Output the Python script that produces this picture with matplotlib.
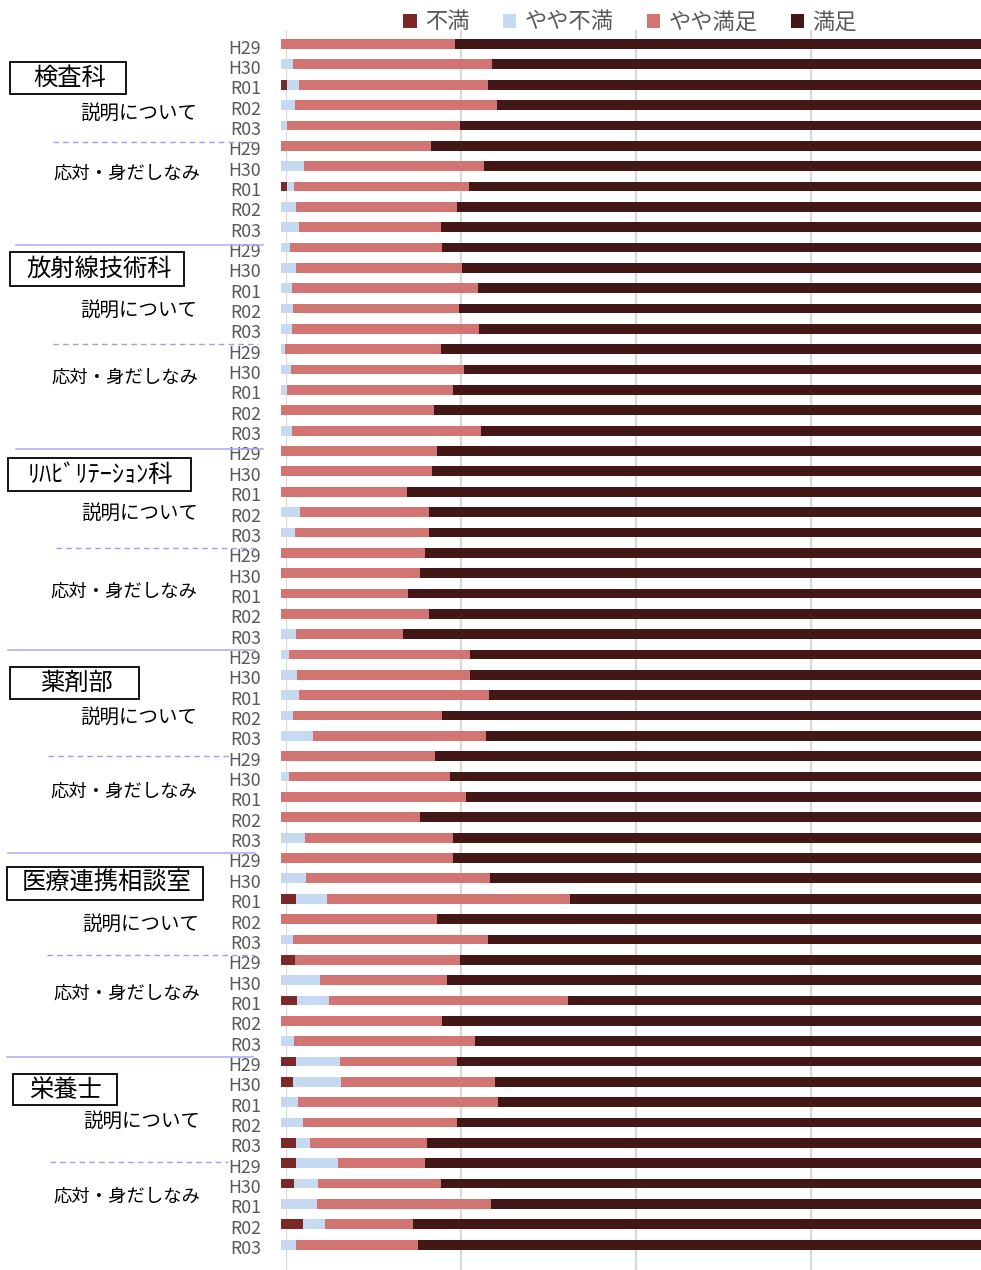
import matplotlib
matplotlib.use('Agg')
import matplotlib.pyplot as plt
from matplotlib.patches import Rectangle, Patch
from matplotlib.lines import Line2D
import matplotlib.transforms as mtransforms
import numpy as np

plt.rcParams['font.family'] = ['Noto Sans CJK JP', 'DejaVu Sans']

# ---------------- data ----------------
years = ['H29', 'H30', 'R01', 'R02', 'R03']
departments = ['検査科', '放射線技術科', 'ﾘﾊﾋﾞﾘﾃｰｼｮﾝ科', '薬剤部', '医療連携相談室', '栄養士']
questions = ['説明について', '応対・身だしなみ']
series_names = ['不満', 'やや不満', 'やや満足', '満足']

# percentages per row (dept -> question -> year)
fuman = [0, 0, 0.9, 0, 0,   0, 0, 0.9, 0, 0,
         0, 0, 0, 0, 0,     0, 0, 0, 0, 0,
         0, 0, 0, 0, 0,     0, 0, 0, 0, 0,
         0, 0, 0, 0, 0,     0, 0, 0, 0, 0,
         0, 0, 2.2, 0, 0,   2.0, 0, 2.3, 0, 0,
         2.1, 1.7, 0, 0, 2.1,   2.1, 1.8, 0, 3.2, 0]
yaya_fuman = [0, 1.7, 1.7, 2.0, 0.9,   0, 3.3, 0.9, 2.1, 2.6,
              1.3, 2.1, 1.6, 1.7, 1.5,   0.6, 1.4, 0.8, 0, 1.6,
              0, 0, 0, 2.7, 2.0,         0, 0, 0, 0, 2.2,
              1.2, 2.3, 2.5, 1.7, 4.5,   0, 1.2, 0, 0, 3.4,
              0, 3.6, 4.4, 0, 1.7,       0, 5.5, 4.6, 0, 1.8,
              6.3, 6.8, 2.4, 3.2, 2.1,   6.1, 3.5, 5.1, 3.1, 2.2]
yaya_manzoku = [24.9, 28.4, 26.9, 28.8, 24.6,   21.4, 25.7, 25.0, 23.0, 20.2,
                21.7, 23.7, 26.5, 23.7, 26.8,   22.3, 24.7, 23.7, 21.9, 27.0,
                22.3, 21.6, 18.0, 18.4, 19.2,   20.5, 19.8, 18.2, 21.1, 15.2,
                25.8, 24.7, 27.2, 21.3, 24.8,   22.0, 23.0, 26.4, 19.8, 21.1,
                24.6, 26.3, 34.7, 22.3, 27.9,   23.6, 18.2, 34.1, 23.0, 25.9,
                16.7, 22.1, 28.6, 21.9, 16.7,   12.3, 17.6, 24.9, 12.5, 17.4]
manzoku = [75.1, 69.9, 70.5, 69.2, 74.5,   78.6, 71.0, 73.2, 74.9, 77.2,
           77.0, 74.2, 71.9, 74.6, 71.7,   77.1, 73.9, 75.5, 78.1, 71.4,
           77.7, 78.4, 82.0, 78.9, 78.8,   79.5, 80.2, 81.8, 78.9, 82.6,
           73.0, 73.0, 70.3, 77.0, 70.7,   78.0, 75.8, 73.6, 80.2, 75.5,
           75.4, 70.1, 58.7, 77.7, 70.4,   74.4, 76.3, 59.0, 77.0, 72.3,
           74.9, 69.4, 69.0, 74.9, 79.1,   79.5, 77.1, 70.0, 81.2, 80.4]

colors = ['#7A2828', '#C5D9F1', '#D27572', '#441717']

row_labels = [y for d in departments for q in questions for y in years]

# ---------------- figure ----------------
W, H = 981, 1270
fig = plt.figure(figsize=(W / 100, H / 100), dpi=100)


def fx(px):
    return px / W


def fy(py):
    return 1 - py / H


pitch = 20.35
top_px, bot_px = 30, 1270
y_top = -(44 - top_px) / pitch
y_bot = y_top + (bot_px - top_px) / pitch

# grid axes (slightly offset, like the 3D bar depth in the original)
axg = fig.add_axes([fx(286), fy(bot_px), 700 / W, (bot_px - top_px) / H])
axg.set_xlim(0, 1)
axg.set_ylim(y_bot, y_top)
axg.set_xticks([0, 0.25, 0.5, 0.75, 1.0])
axg.grid(axis='x', color='#D9D9D9', lw=1.6)
axg.tick_params(length=0, labelbottom=False, labelleft=False)
for s in axg.spines.values():
    s.set_visible(False)
axg.set_yticks([])

ax = fig.add_axes([fx(281), fy(bot_px), 700 / W, (bot_px - top_px) / H])
ax.patch.set_alpha(0)
ax.set_xlim(0, 100)
ax.set_ylim(y_bot, y_top)

ypos = np.arange(len(row_labels))
data = [np.array(fuman), np.array(yaya_fuman), np.array(yaya_manzoku), np.array(manzoku)]
left = np.zeros(len(row_labels))
for vals, c, name in zip(data, colors, series_names):
    ax.barh(ypos, vals, left=left, height=0.48, color=c, label=name, lw=0)
    left = left + vals

ax.set_yticks(ypos)
ax.set_yticklabels(row_labels, fontsize=12.8, color='#595959')
ax.tick_params(axis='y', length=0, pad=14.4)
ax.tick_params(axis='x', length=0, labelbottom=False)
for s in ax.spines.values():
    s.set_visible(False)
off = mtransforms.ScaledTranslation(0, -2.5 / 100, fig.dpi_scale_trans)
for lab in ax.get_yticklabels():
    lab.set_transform(lab.get_transform() + off)

# legend
handles = [Patch(facecolor=c, edgecolor='none', label=n) for c, n in zip(colors, series_names)]
fig.legend(handles=handles, loc='center', bbox_to_anchor=(fx(630), fy(22)), ncol=4,
           frameon=False, fontsize=16, handlelength=0.6, handleheight=0.6,
           handletextpad=0.37, columnspacing=1.5, labelcolor='#595959',
           borderaxespad=0, borderpad=0)

# ---------------- left annotations ----------------
boxes = [  # x0, y0, x1, y1, text center x, center y
    (10, 62, 126, 94, 70, 78),
    (10, 252, 184, 286, 99, 269),
    (8, 458, 191, 491, 100, 475),
    (10, 667, 139, 699, 76, 683),
    (7, 867, 203, 900, 107, 883),
    (13, 1074, 117, 1105, 66, 1090),
]
for (x0, y0, x1, y1, tx, ty), name in zip(boxes, departments):
    fig.add_artist(Rectangle((fx(x0), fy(y1)), (x1 - x0) / W, (y1 - y0) / H,
                             transform=fig.transFigure, fill=False, ec='black', lw=1.3))
    fig.text(fx(tx), fy(ty), name, ha='center', va='center', fontsize=17.5, color='black')

q_pos = [  # (説明 x, y), (応対 x, y)
    ((139, 113), (127, 174)),
    ((139, 310), (125, 378)),
    ((140, 513), (124, 592)),
    ((139, 717), (124, 792)),
    ((141, 924), (127, 994)),
    ((142, 1121), (127, 1197)),
]
q_sizes = [14, 13.2]
for (p1, p2) in q_pos:
    for (x, y), q, fs in zip((p1, p2), questions, q_sizes):
        fig.text(fx(x), fy(y), q, ha='center', va='center', fontsize=fs, color='black')

dashed = [(53, 258, 141.5), (53, 258, 344), (56, 258, 548), (48, 232, 756),
          (47, 255, 955), (50, 228, 1162)]
for x0, x1, y in dashed:
    fig.add_artist(Line2D([fx(x0), fx(x1)], [fy(y), fy(y)], transform=fig.transFigure,
                          color='#9C9CF0', lw=1, ls=(0, (4, 3))))
solid = [(16, 263, 245), (16, 263, 449), (8, 255, 650), (8, 255, 853), (7, 253, 1057)]
for x0, x1, y in solid:
    fig.add_artist(Line2D([fx(x0), fx(x1)], [fy(y), fy(y)], transform=fig.transFigure,
                          color='#A8A8F0', lw=1.1))

fig.savefig('out.png', dpi=100)
